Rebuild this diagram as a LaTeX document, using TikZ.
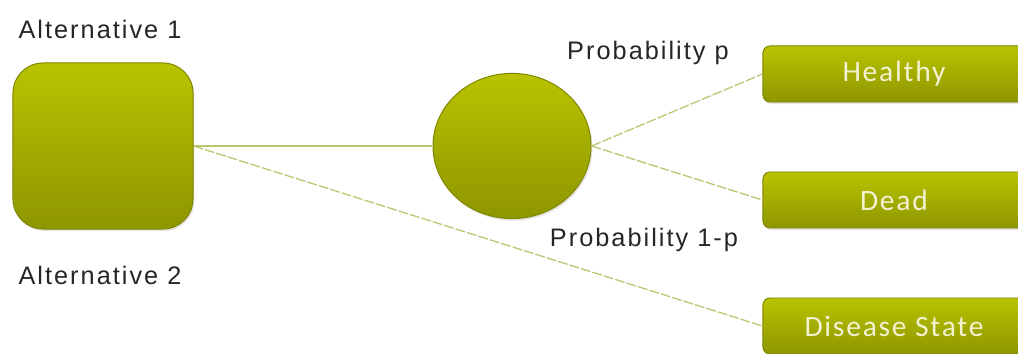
\documentclass[tikz,border=0pt]{standalone}
\usepackage{fontspec}
\setmainfont[LetterSpace=8]{Liberation Sans}
\newfontfamily\carlito[LetterSpace=6]{Carlito}
\usetikzlibrary{shapes.geometric,shadows}
\definecolor{olivachiaro}{HTML}{B9C300}
\definecolor{olivascuro}{HTML}{8E9600}
\definecolor{bordo}{HTML}{7F8600}
\definecolor{linea}{HTML}{BDC56E}
\definecolor{crema}{HTML}{F2F2D2}
\begin{document}
\begin{tikzpicture}[x=0.025cm,y=-0.025cm,
    blocco/.style={draw=bordo, line width=0.7pt, top color=olivachiaro, bottom color=olivascuro,
      drop shadow={opacity=0.2, shadow xshift=1pt, shadow yshift=-1.5pt}},
    esito/.style={blocco, rectangle, rounded corners=5pt, inner sep=0pt,
      minimum width=6.55cm, minimum height=1.4cm, text=crema,
      font=\carlito\fontsize{21}{24}\selectfont},
    etichetta/.style={inner sep=0pt, text=black!85, font=\fontsize{18}{20}\selectfont},
    ramo/.style={draw=linea, line width=0.9pt},
    tratteggio/.style={ramo, dash pattern=on 7pt off 1.5pt}]
    % Sfondo e riquadro
    \fill[white] (0,0) rectangle (1018,354);
    \useasboundingbox (0,0) rectangle (1018,354);
    % Decisione (quadrato) e nodo di probabilita (cerchio)
    \node[blocco, rectangle, rounded corners=0.75cm, minimum width=4.5cm, minimum height=4.15cm] (scelta) at (103,146) {};
    \node[blocco, ellipse, inner sep=0pt, minimum width=3.95cm, minimum height=3.63cm] (caso) at (512,146) {};
    % Esiti
    \node[esito] (sano) at (894,74) {Healthy};
    \node[esito] (morto) at (894,200) {Dead};
    \node[esito] (malattia) at (894,326) {Disease State};
    % Rami
    \draw[ramo] (scelta.east) -- (caso.west);
    \draw[tratteggio] (scelta.east) -- (malattia.west);
    \draw[tratteggio] (caso.east) -- (sano.west);
    \draw[tratteggio] (caso.east) -- (morto.west);
    % Etichette
    \node[etichetta] (alt1) at (100,29) {Alternative 1};
    \node[etichetta] (alt2) at (100,275) {Alternative 2};
    \node[etichetta] (pp) at (648,53) {Probability p};
    \node[etichetta] (pq) at (644,240) {Probability 1-p};
\end{tikzpicture}
\end{document}
